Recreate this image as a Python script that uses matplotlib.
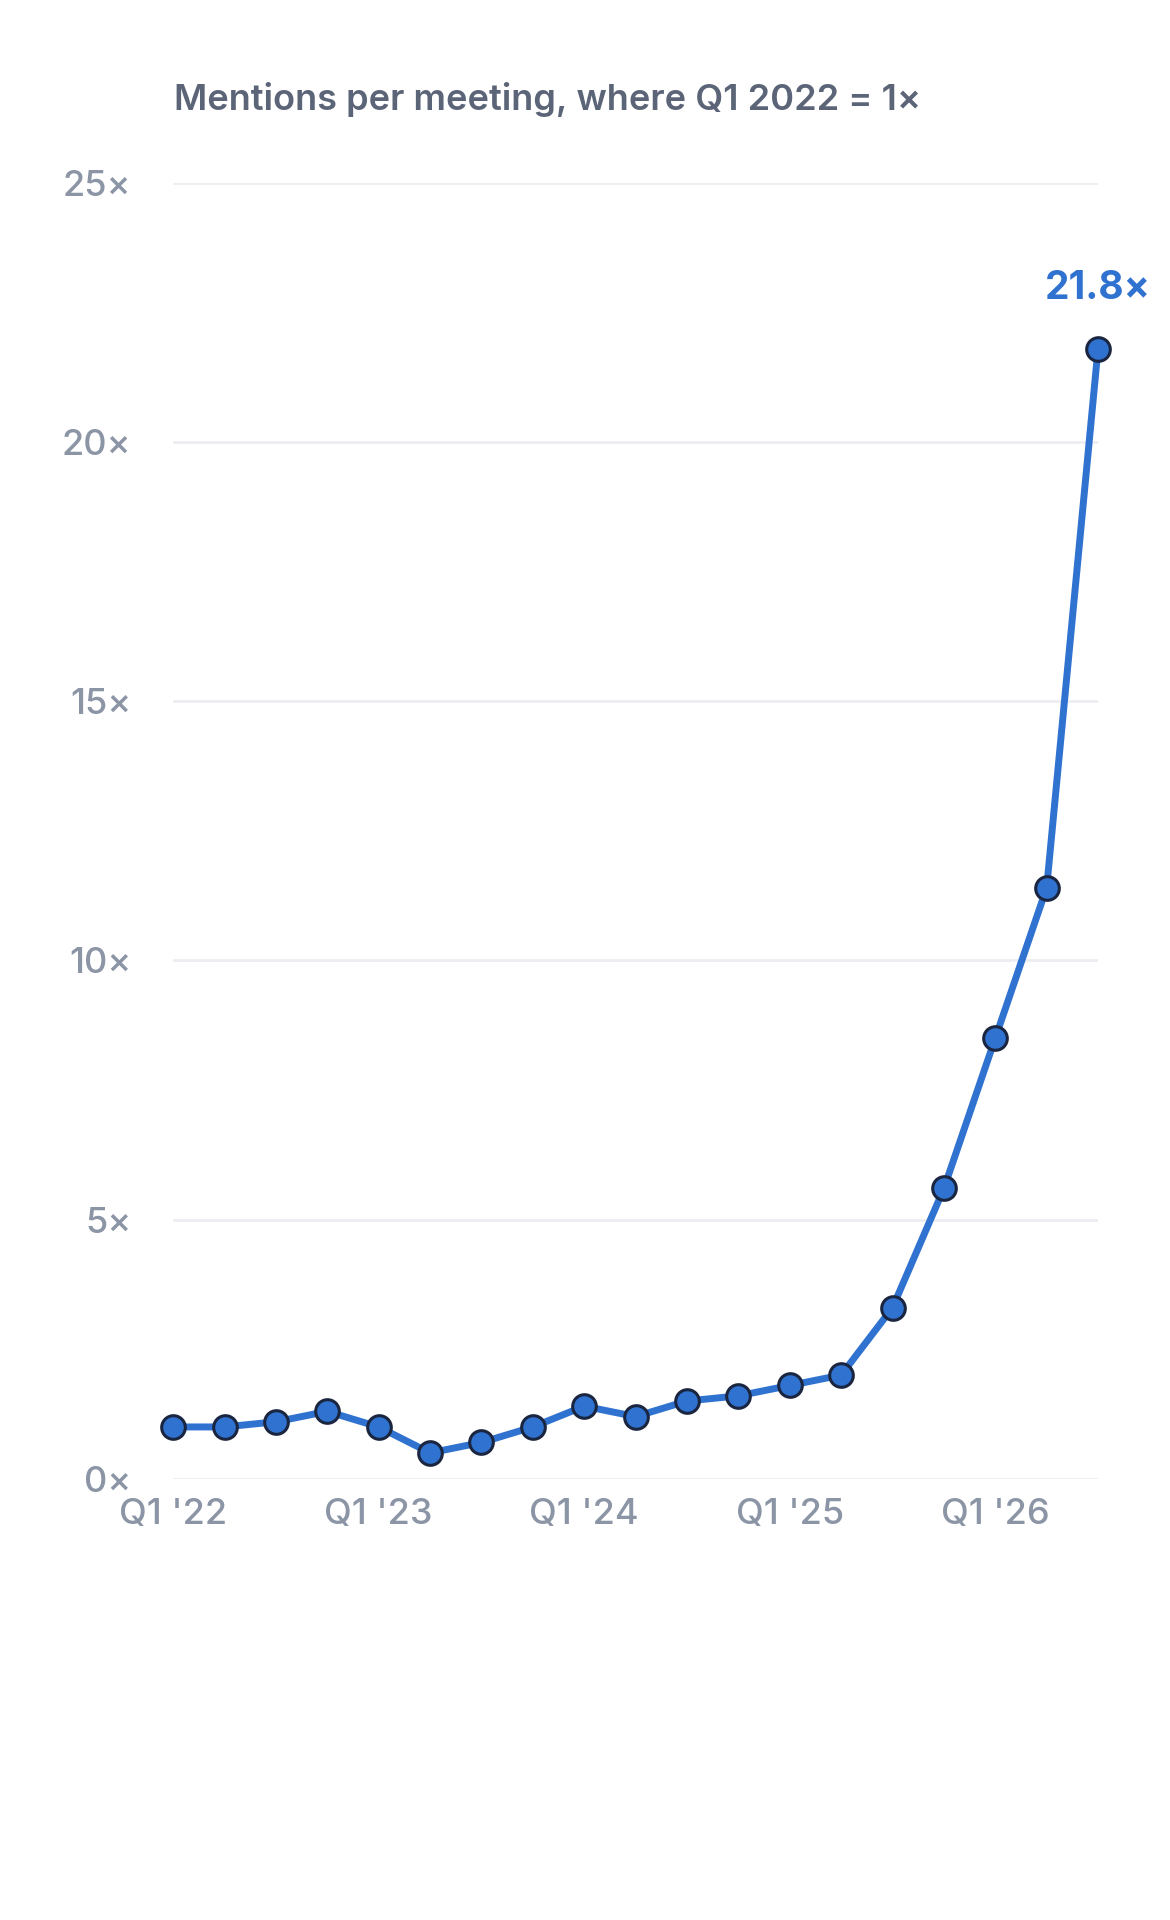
import matplotlib
matplotlib.use("Agg")
import matplotlib.pyplot as plt

quarters = ["Q1 '22","Q2 '22","Q3 '22","Q4 '22","Q1 '23","Q2 '23","Q3 '23","Q4 '23",
            "Q1 '24","Q2 '24","Q3 '24","Q4 '24","Q1 '25","Q2 '25","Q3 '25","Q4 '25",
            "Q1 '26","Q2 '26","Q3 '26"]
values = [1.0, 1.0, 1.1, 1.3, 1.0, 0.5, 0.7, 1.0, 1.4, 1.2, 1.5, 1.6, 1.8, 2.0, 3.3, 5.6, 8.5, 11.4, 21.8]
yticks = [0, 5, 10, 15, 20, 25]
ytick_labels = ["0×", "5×", "10×", "15×", "20×", "25×"]
xtick_idx = [0, 4, 8, 12, 16]

plt.rcParams['font.family'] = ['Inter', 'DejaVu Sans']
fig = plt.figure(figsize=(11.7, 19.2), dpi=100)
ax = fig.add_axes([0.148, 0.2298, 0.7905, 0.675])
x = list(range(len(values)))
ax.plot(x, values, color="#2f72d0", lw=5, zorder=3, clip_on=False,
        marker="o", ms=17, mfc="#2f72d0", mec="#1a2540", mew=2.2)
ax.set_xlim(0, 18)
ax.set_ylim(0, 25)
ax.set_yticks(yticks)
ax.set_yticklabels(ytick_labels)
ax.set_xticks(xtick_idx)
ax.set_xticklabels([quarters[i] for i in xtick_idx])
ax.grid(axis="y", color="#eceef1", lw=2)
ax.set_axisbelow(True)
for s in ax.spines.values():
    s.set_visible(False)
ax.tick_params(length=0, labelsize=26, colors="#8b95a5", labelcolor="#8b95a5")
ax.tick_params(axis="y", pad=30)
ax.tick_params(axis="x", pad=14)
for lbl in ax.get_xticklabels() + ax.get_yticklabels():
    lbl.set_fontweight("medium")
ax.annotate(f"{values[-1]}×", (18, values[-1]), xytext=(0, 30), textcoords="offset points",
            ha="center", va="bottom", fontsize=28, fontweight="bold", color="#2f72d0")
fig.text(0.149, 0.948, "Mentions per meeting, where Q1 2022 = 1×", fontsize=26,
         fontweight="semibold", color="#5b6577", ha="left", va="center")
fig.savefig("out.png", dpi=100, facecolor="white")
